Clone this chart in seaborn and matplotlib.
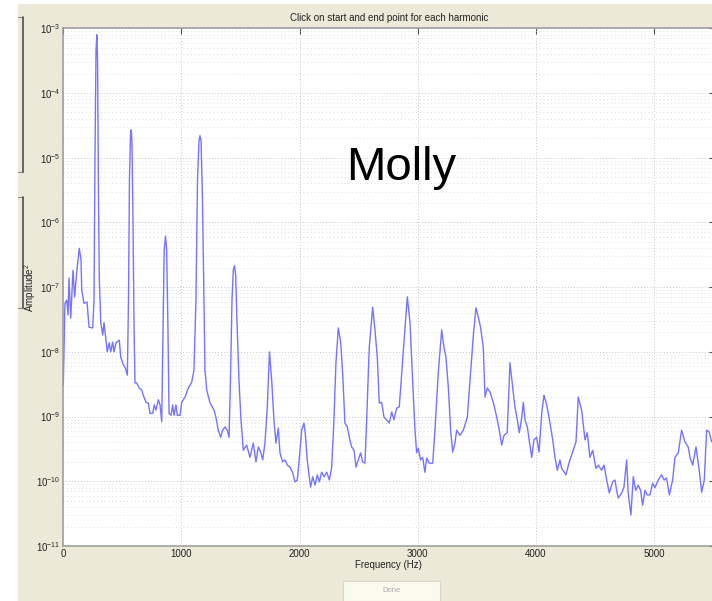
import matplotlib
matplotlib.use("Agg")
import numpy as np
import pandas as pd
import matplotlib.pyplot as plt
from matplotlib.patches import Rectangle
from matplotlib.lines import Line2D
from matplotlib.ticker import LogLocator, NullFormatter, FixedLocator
import seaborn as sns

# Power spectrum of the sung note (frequency in Hz, log10 of amplitude squared)
freq_hz = [
    0, 8, 14, 29, 40, 48, 63, 82, 96, 113, 135, 150, 156, 175, 201, 218, 249,
    260, 268, 277, 284, 290, 298, 305, 317, 334, 345, 361, 372, 389, 401, 418, 429, 446, 474, 486, 508, 525, 542,
    552, 560, 569, 575, 581, 590, 598, 607, 621, 643, 664, 677, 700, 719, 734, 757, 770, 785, 804, 819, 833,
    844, 854, 865, 875, 886, 895, 912, 926, 937, 954, 965, 988, 1002, 1030, 1058, 1087, 1106,
    1123, 1136, 1149, 1157, 1166, 1178, 1191, 1199, 1214, 1242, 1276, 1293, 1312, 1332, 1349, 1369, 1388, 1403,
    1415, 1428, 1439, 1449, 1459, 1470, 1487, 1504, 1524, 1552, 1580, 1608, 1631, 1651, 1671, 1688, 1707, 1727,
    1745, 1764, 1783, 1800, 1820, 1834, 1857, 1877, 1896, 1919, 1942, 1961, 1981, 2004, 2018, 2037, 2048, 2065,
    2082, 2094, 2111, 2131, 2150, 2167, 2187, 2207, 2230, 2252, 2272, 2291, 2308, 2328, 2348, 2365, 2384, 2404,
    2421, 2441, 2461, 2478, 2497, 2517, 2534, 2554, 2568, 2590, 2619, 2638, 2658, 2675, 2695, 2715, 2737, 2759,
    2780, 2799, 2822, 2844, 2873, 2892, 2912, 2935, 2957, 2977, 2991, 3005, 3025, 3042, 3061, 3076, 3098, 3127,
    3146, 3174, 3203, 3222, 3239, 3259, 3279, 3296, 3315, 3330, 3358, 3386, 3420, 3443, 3470, 3493, 3513, 3533,
    3555, 3570, 3589, 3612, 3640, 3669, 3691, 3711, 3731, 3758, 3781, 3804, 3823, 3843, 3860, 3880, 3894, 3908,
    3928, 3944, 3965, 3984, 4007, 4027, 4050, 4069, 4092, 4120, 4143, 4162, 4182, 4204, 4219, 4255, 4283, 4317,
    4340, 4359, 4388, 4416, 4435, 4458, 4481, 4509, 4529, 4557, 4577, 4600, 4622, 4650, 4670, 4684, 4698, 4727,
    4746, 4769, 4782, 4805, 4825, 4845, 4867, 4887, 4904, 4924, 4943, 4966, 4989, 5008, 5036, 5065, 5085, 5107,
    5130, 5158, 5178, 5206, 5234, 5262, 5290, 5305, 5328, 5356, 5383, 5404, 5426, 5446, 5468, 5488, 5508,
]
log10_power = [
    -8.51, -7.82, -7.25, -7.20, -7.43, -6.86, -7.48, -6.74, -7.15, -6.78, -6.40, -6.58, -7.04, -7.25, -7.23, -7.62, -7.63,
    -7.20, -5.04, -3.34, -3.10, -3.49, -5.65, -6.89, -7.54, -7.74, -7.55, -7.82, -8.00, -7.86, -8.00, -7.85, -8.00, -7.86, -7.82, -8.08, -8.20, -8.25, -8.36,
    -7.20, -5.34, -4.65, -4.57, -4.73, -5.96, -7.51, -8.48, -8.48, -8.56, -8.59, -8.67, -8.78, -8.79, -8.95, -8.95, -8.82, -8.90, -8.74, -8.82, -9.08,
    -7.66, -6.43, -6.21, -6.43, -7.66, -8.95, -8.98, -8.82, -8.98, -8.82, -8.98, -8.98, -8.78, -8.70, -8.56, -8.47, -8.28,
    -7.20, -5.34, -4.73, -4.66, -4.73, -5.65, -7.20, -8.28, -8.59, -8.79, -8.90, -9.02, -9.21, -9.32, -9.21, -9.16, -9.21, -9.32,
    -8.44, -7.20, -6.74, -6.67, -6.81, -7.51, -8.44, -9.05, -9.52, -9.44, -9.63, -9.41, -9.70, -9.47, -9.55, -9.67, -9.41, -8.85,
    -8.00, -8.44, -9.05, -9.41, -9.18, -9.56, -9.70, -9.67, -9.75, -9.78, -9.87, -10.01, -9.98, -9.52, -9.21, -9.10, -9.25, -9.67,
    -9.93, -10.09, -9.93, -10.06, -9.90, -10.01, -9.86, -9.93, -9.86, -9.98, -9.78, -9.05, -8.17, -7.63, -7.85, -8.33, -9.10, -9.16,
    -9.32, -9.47, -9.52, -9.78, -9.67, -9.56, -9.70, -9.72, -9.05, -7.93, -7.31, -7.66, -8.08, -8.79, -8.78, -9.01, -9.05, -9.10,
    -8.93, -9.05, -8.87, -8.85, -8.13, -7.66, -7.15, -7.55, -8.44, -9.21, -9.56, -9.49, -9.67, -9.63, -9.86, -9.64, -9.72, -9.72,
    -9.21, -8.33, -7.66, -7.93, -8.08, -8.54, -9.21, -9.55, -9.41, -9.21, -9.29, -9.21, -9.01, -8.44, -7.77, -7.32, -7.46, -7.63,
    -7.93, -8.70, -8.56, -8.62, -8.78, -9.01, -9.21, -9.44, -9.29, -9.25, -8.17, -8.54, -8.85, -9.05, -9.25, -9.02, -8.78, -9.05,
    -9.16, -9.36, -9.63, -9.36, -9.32, -9.55, -8.95, -8.67, -8.82, -9.10, -9.36, -9.63, -9.83, -9.67, -9.80, -9.90, -9.70, -9.52,
    -9.39, -8.70, -8.90, -9.36, -9.25, -9.63, -9.52, -9.80, -9.75, -9.83, -9.75, -9.98, -10.18, -10.01, -9.98, -10.14, -10.26, -10.18,
    -10.09, -9.67, -10.18, -10.52, -9.93, -10.14, -10.06, -10.14, -10.37, -10.14, -10.21, -10.21, -10.03, -10.10, -9.98, -9.90, -9.98, -9.95,
    -10.21, -9.98, -9.63, -9.56, -9.21, -9.39, -9.47, -9.63, -9.75, -9.47, -9.83, -10.17, -9.98, -9.21, -9.24, -9.39, -9.36,
]

x_ticks = [0, 1000, 2000, 3000, 4000, 5000]
x_range = (0, 5512.5)
y_range = (1e-11, 1e-3)

title_text = "Click on start and end point for each harmonic"
x_label = "Frequency (Hz)"
y_label = "Amplitude$^{2}$"
singer_name = "Molly"
button_text = "Done"

spectrum = pd.DataFrame({"freq": freq_hz, "power": np.power(10.0, log10_power)})

sns.set_theme(style="white")
plt.rcParams["font.family"] = ["Liberation Sans", "DejaVu Sans"]
plt.rcParams["mathtext.fontset"] = "custom"
plt.rcParams["mathtext.rm"] = "Liberation Sans"
plt.rcParams["mathtext.it"] = "Liberation Sans:italic"
plt.rcParams["mathtext.bf"] = "Liberation Sans:bold"

W, H = 712, 601
panel_bg = "#ece9d8"

fig = plt.figure(figsize=(W / 100, H / 100), dpi=100, facecolor="white")

# window background (left/top edges of the screen grab stay white)
fig.patches.append(Rectangle((18 / W, 0), 1, 1 - 4 / H, transform=fig.transFigure,
                             facecolor=panel_bg, edgecolor="none", zorder=-10))

# clipped edges of the two control panels on the left
for top, bot in [(17, 172), (197, 308)]:
    for y in (top, bot):
        fig.lines.append(Line2D([18 / W, 22.7 / W], [1 - y / H, 1 - y / H], transform=fig.transFigure,
                                color="#8a8a80", lw=0.8))
    fig.lines.append(Line2D([22.7 / W, 22.7 / W], [1 - top / H, 1 - bot / H], transform=fig.transFigure,
                            color="#404040", lw=1.1))

ax_left, ax_right = 63.3, 714.5
ax_top, ax_bot = 28.3, 546.0
ax = fig.add_axes([ax_left / W, 1 - ax_bot / H, (ax_right - ax_left) / W, (ax_bot - ax_top) / H])
ax.set_facecolor("white")
ax.set_zorder(2)

sns.lineplot(data=spectrum, x="freq", y="power", ax=ax, color="#7474ff", lw=1.0,
             sort=False, estimator=None, legend=False)

ax.set_yscale("log")
ax.set_xlim(*x_range)
ax.set_ylim(*y_range)
ax.xaxis.set_major_locator(FixedLocator(x_ticks))
ax.set_xticklabels([str(t) for t in x_ticks])
ax.yaxis.set_major_locator(LogLocator(base=10, numticks=20))
ax.yaxis.set_minor_locator(LogLocator(base=10, subs=np.arange(2, 10), numticks=200))
ax.yaxis.set_minor_formatter(NullFormatter())

ax.grid(True, which="major", axis="both", color="#b4b4b4", lw=0.6, linestyle=(0, (1, 2.5)))
ax.grid(True, which="minor", axis="y", color="#d2d2d2", lw=0.6, linestyle=(0, (1, 3.5)))

ax.tick_params(which="both", direction="in", top=True, right=True, colors="#505050",
               labelcolor="#222222", labelsize=7, pad=2)
ax.tick_params(which="major", length=4, width=0.8)
ax.tick_params(which="minor", length=2, width=0.6)
for side in ("left", "bottom", "top", "right"):
    ax.spines[side].set_color("#999999")
    ax.spines[side].set_linewidth(1.1)

ax.set_xlabel(x_label, fontsize=7, color="#222222", labelpad=1)
ax.set_ylabel(y_label, fontsize=7, color="#222222")
ax.yaxis.set_label_coords(-(ax_left - 38) / (ax_right - ax_left), 0.5)

fig.text((ax_left + ax_right) / 2 / W, 1 - 18.3 / H, title_text, ha="center", va="center",
         fontsize=7, color="#222222")

fig.text(401 / W, 1 - 168 / H, singer_name, ha="center", va="center", fontsize=34, color="black",
         zorder=5)

# "Done" push button at the bottom edge
fig.patches.append(Rectangle((343 / W, 0), 97 / W, 20 / H, transform=fig.transFigure,
                             facecolor="#fbfaee", edgecolor="#d8d6c8", lw=0.8, zorder=1))
fig.text(391.5 / W, 1 - 590 / H, button_text, ha="center", va="center", fontsize=5.5, color="#a8a8a8")

fig.savefig("out.png", dpi=100, facecolor=fig.get_facecolor())
